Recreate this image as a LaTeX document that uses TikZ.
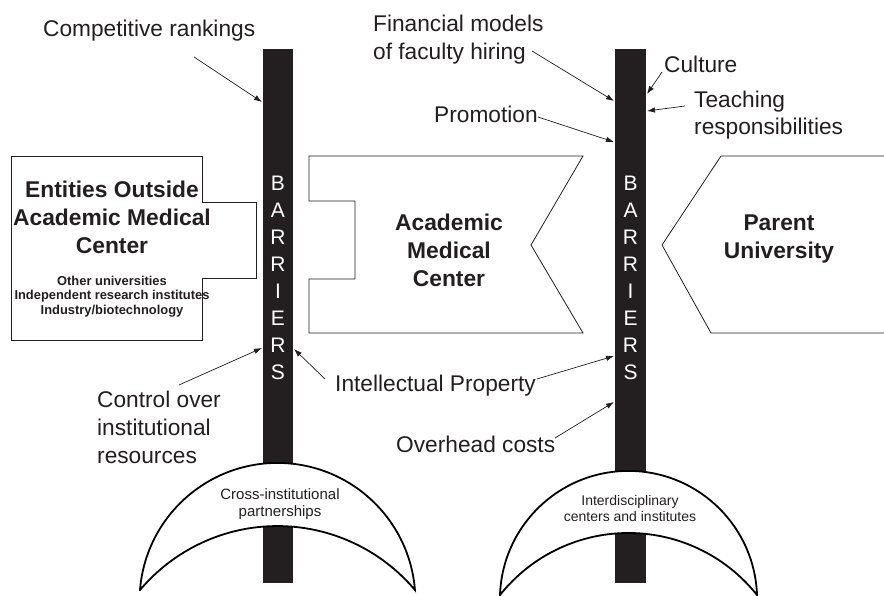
\documentclass[tikz,border=0pt]{standalone}
\usepackage{fontspec}
\setmainfont{Liberation Sans}
\usetikzlibrary{arrows.meta}
\definecolor{ink}{RGB}{35,31,32}
\begin{document}
\begin{tikzpicture}[x=1pt,y=-1pt,
  lbl/.style={font=\fontsize{22.7}{28}\selectfont, text=ink, inner sep=0pt, anchor=base west},
  ttl/.style={font=\fontsize{22.8}{28}\selectfont\bfseries, text=ink, inner sep=0pt, anchor=base},
  subl/.style={font=\fontsize{12.9}{14}\selectfont\bfseries, text=ink, inner sep=0pt, anchor=base},
  cres/.style={font=\fontsize{15}{17}\selectfont, text=ink, inner sep=0pt, anchor=base},
  cresr/.style={font=\fontsize{14}{16}\selectfont, text=ink, inner sep=0pt, anchor=base},
  letter/.style={font=\fontsize{21}{27}\selectfont, text=white, inner sep=0pt, anchor=base},
  outline/.style={draw=ink, line width=0.8pt, fill=white},
  barbox/.style={fill=ink, draw=none, inner sep=0pt},
  crescent/.style={draw=black, line width=1.8pt, fill=white},
  arr/.style={draw=ink, line width=0.7pt, -{Latex[length=8pt,width=5.5pt]}},
]
\useasboundingbox (0,0) rectangle (884,596);
\fill[white] (0,0) rectangle (884,596);
\clip (0,0) rectangle (884,596);

% shapes
\draw[outline] (11,156) -- (202,156) -- (202,202) -- (256,202) -- (256,278) -- (202,278) -- (202,340) -- (11,340) -- cycle;
\draw[outline] (309,156) -- (583,156) -- (531,245) -- (583,333) -- (309,333) -- (309,279) -- (355,279) -- (355,201) -- (309,201) -- cycle;
\draw[outline] (892,156) -- (721,156) -- (662,245) -- (711,333) -- (892,333);

% bars
\node[barbox, minimum width=30pt, minimum height=534pt] (barL) at (278,316) {};
\node[barbox, minimum width=31pt, minimum height=534pt] (barR) at (630.5,316) {};
\foreach \l [count=\i from 0] in {B,A,R,R,I,E,R,S} {
  \node[letter] (lL\i) at (278,190.5+27*\i) {\l};
  \node[letter] (lR\i) at (630.5,190.5+27*\i) {\l};
}

% crescents
\draw[crescent] (140,590) arc[start angle=-175.5, end angle=-4.5, radius=137.9]
  arc[start angle=-40.1, end angle=-139.9, radius=179.7] -- cycle;
\draw[crescent] (500,595) arc[start angle=-178, end angle=-2, radius=128.58]
  arc[start angle=-38.48, end angle=-141.52, radius=164.16] -- cycle;
\node[cres] (cr1) at (280,499) {Cross-institutional};
\node[cres] (cr2) at (280,516) {partnerships};
\node[cresr] (ic1) at (630,505) {Interdisciplinary};
\node[cresr] (ic2) at (630,521) {centers and institutes};

% titles
\node[ttl] (e1) at (112,198) {Entities Outside};
\node[ttl] (e2) at (112,226) {Academic Medical};
\node[ttl] (e3) at (112,254) {Center};
\node[subl] (s1) at (112,286) {Other universities};
\node[subl] (s2) at (112,300) {Independent research institutes};
\node[subl] (s3) at (112,314) {Industry/biotechnology};
\node[ttl] (a1) at (449,231) {Academic};
\node[ttl] (a2) at (449,259) {Medical};
\node[ttl] (a3) at (449,287) {Center};
\node[ttl] (p1) at (779,231) {Parent};
\node[ttl] (p2) at (779,259) {University};

% labels
\node[lbl] (comp) at (43,37) {Competitive rankings};
\node[lbl] (fin1) at (373,32) {Financial models};
\node[lbl] (fin2) at (373,60) {of faculty hiring};
\node[lbl] (prom) at (434,123) {Promotion};
\node[lbl] (cult) at (664,73) {Culture};
\node[lbl] (tea1) at (694,108) {Teaching};
\node[lbl] (tea2) at (694,135) {responsibilities};
\node[lbl] (con1) at (97,407) {Control over};
\node[lbl] (con2) at (97,435) {institutional};
\node[lbl] (con3) at (97,463) {resources};
\node[lbl] (ip) at (335,391) {Intellectual Property};
\node[lbl] (over) at (396,452) {Overhead costs};

% arrow ends
\coordinate (compS) at (194,57);   \coordinate (compT) at (262,102);
\coordinate (finS) at (532,51);    \coordinate (finT) at (614,101);
\coordinate (promS) at (538,117);  \coordinate (promT) at (614,142);
\coordinate (cultS) at (662,72);   \coordinate (cultT) at (647,94);
\coordinate (teaS) at (685,106);   \coordinate (teaT) at (647,111);
\coordinate (conS) at (179,385);   \coordinate (conT) at (262,348);
\coordinate (ipLS) at (325,379);   \coordinate (ipLT) at (294,349);
\coordinate (ipRS) at (537,379);   \coordinate (ipRT) at (614,356);
\coordinate (overS) at (555,438);  \coordinate (overT) at (614,402);

\draw[arr] (compS) -- (compT);
\draw[arr] (finS) -- (finT);
\draw[arr] (promS) -- (promT);
\draw[arr] (cultS) -- (cultT);
\draw[arr] (teaS) -- (teaT);
\draw[arr] (conS) -- (conT);
\draw[arr] (ipLS) -- (ipLT);
\draw[arr] (ipRS) -- (ipRT);
\draw[arr] (overS) -- (overT);
\end{tikzpicture}
\end{document}
